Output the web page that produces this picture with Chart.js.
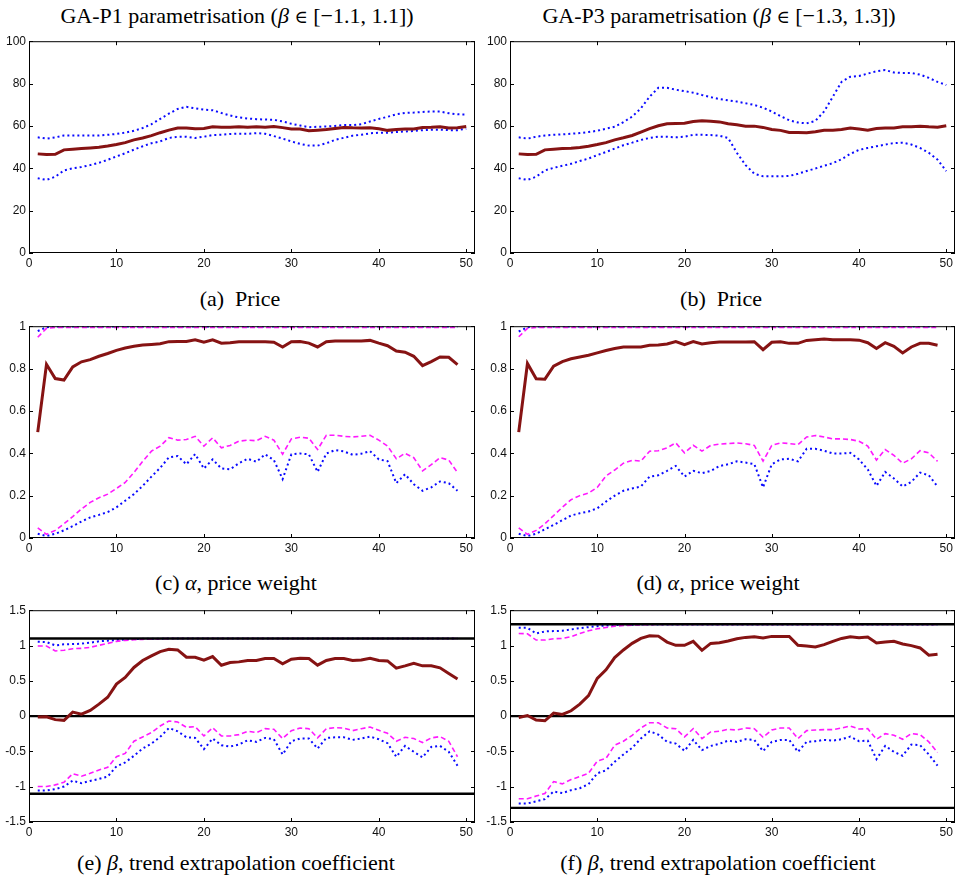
<!DOCTYPE html>
<html>
<head>
<meta charset="utf-8">
<script src="https://cdn.jsdelivr.net/npm/chart.js@4.4.1/dist/chart.umd.min.js"></script>
<style>
  html, body { margin: 0; padding: 0; background: #fff; }
  #page { position: relative; width: 960px; height: 886px; overflow: hidden; }
  .panel { position: absolute; width: 480px; height: 242px; }
  .txt {
    position: absolute; width: 480px; text-align: center;
    font-family: "Liberation Serif", "Times New Roman", serif;
    font-size: 22px; line-height: 22px; color: #000; white-space: nowrap;
  }
  .elem { font-family: "DejaVu Serif", serif; font-size: 18px; }
</style>
</head>
<body>
<div id="page">
  <div class="txt" style="left:-3px; top:5px;">GA-P1 parametrisation (<i>β</i> <span class="elem">∈</span> [−1.1, 1.1])</div>
  <div class="txt" style="left:479px; top:5px;">GA-P3 parametrisation (<i>β</i> <span class="elem">∈</span> [−1.3, 1.3])</div>

  <div class="panel" style="left:0; top:31px;"><canvas id="cA"></canvas></div>
  <div class="panel" style="left:480px; top:31px;"><canvas id="cB"></canvas></div>
  <div class="txt" style="left:0; top:288px;">(a)&nbsp; Price</div>
  <div class="txt" style="left:481px; top:288px;">(b)&nbsp; Price</div>

  <div class="panel" style="left:0; top:316px;"><canvas id="cC"></canvas></div>
  <div class="panel" style="left:480px; top:316px;"><canvas id="cD"></canvas></div>
  <div class="txt" style="left:-4px; top:572px;">(c) <i>α</i>, price weight</div>
  <div class="txt" style="left:478px; top:572px;">(d) <i>α</i>, price weight</div>

  <div class="panel" style="left:0; top:600px;"><canvas id="cE"></canvas></div>
  <div class="panel" style="left:480px; top:600px;"><canvas id="cF"></canvas></div>
  <div class="txt" style="left:-4px; top:852px;">(e) <i>β</i>, trend extrapolation coefficient</div>
  <div class="txt" style="left:478px; top:852px;">(f) <i>β</i>, trend extrapolation coefficient</div>
</div>

<script>
// x axis: generations
const gens50 = [1,2,3,4,5,6,7,8,9,10,11,12,13,14,15,16,17,18,19,20,21,22,23,24,25,
  26,27,28,29,30,31,32,33,34,35,36,37,38,39,40,41,42,43,44,45,46,47,48,49,50];
const gens49 = gens50.slice(0, 49);

const xTicks = [0, 10, 20, 30, 40, 50];
const priceTicks = [0, 20, 40, 60, 80, 100];
const alphaTicks = [0, 0.2, 0.4, 0.6, 0.8, 1];
const betaTicks = [-1.5, -1, -0.5, 0, 0.5, 1, 1.5];

// horizontal reference lines for beta panels
const betaLevelsP1 = [-1.1, 0, 1.1];
const betaLevelsP3 = [-1.3, 0, 1.3];

// (a) price, GA-P1
const priceP1Mean = [46.8,46.5,46.6,48.7,49.0,49.3,49.6,49.9,50.5,51.2,52.1,53.4,54.3,55.4,56.8,58.0,59.0,59.0,58.7,58.8,
  59.6,59.4,59.4,59.6,59.4,59.6,59.4,59.7,59.2,58.5,58.5,57.7,58.0,58.3,58.8,59.3,59.1,59.0,59.1,58.7,
  57.9,58.3,58.6,58.5,59.3,59.4,59.6,59.0,59.1,59.7];
const priceP1Upper = [54.6,54.0,54.6,55.5,55.5,55.5,55.5,55.5,55.8,56.2,56.8,57.7,59.0,60.8,63.3,65.8,68.0,69.0,68.3,67.7,
  67.4,66.1,64.9,64.0,63.5,63.2,63.0,62.9,62.1,61.0,60.2,59.4,59.6,59.7,60.0,60.4,60.4,60.8,62.1,63.3,
  64.3,65.5,66.1,66.3,66.6,66.8,66.8,66.0,65.5,65.4];
const priceP1Lower = [35.3,34.5,36.0,39.0,40.0,40.6,41.5,42.6,44.0,45.6,47.1,48.8,50.4,51.8,52.7,54.3,54.9,54.9,54.3,54.9,
  55.7,55.8,56.2,56.3,56.3,56.6,56.3,55.2,54.0,52.7,51.5,50.7,50.7,51.8,53.4,54.4,55.4,55.8,56.5,56.8,
  56.8,57.1,57.4,57.6,58.0,58.2,58.2,58.0,58.0,58.7];

// (b) price, GA-P3
const priceP3Mean = [46.8,46.5,46.6,48.7,49.0,49.3,49.5,49.8,50.4,51.2,52.1,53.4,54.4,55.5,57.1,58.7,60.1,61.0,61.2,61.3,
  62.1,62.4,62.2,61.9,61.0,60.5,59.9,59.9,59.3,58.3,57.9,56.9,56.9,56.8,57.3,57.9,58.0,58.3,59.0,58.5,
  58.0,58.8,59.0,59.0,59.6,59.6,59.9,59.6,59.4,60.1];
const priceP3Upper = [54.6,54.0,54.9,55.5,55.8,56.0,56.3,56.6,57.1,57.7,58.7,59.6,61.8,64.4,68.3,73.8,78.0,78.0,77.1,76.4,
  75.7,74.6,73.6,72.7,72.1,71.5,70.7,69.9,68.6,66.8,64.6,62.7,61.6,61.2,62.4,66.8,73.8,80.8,83.2,83.6,
  84.7,85.8,86.4,85.2,85.0,85.0,84.2,82.7,80.8,79.3];
const priceP3Lower = [35.3,34.5,36.0,39.0,40.2,41.2,42.1,43.4,44.6,46.2,47.7,49.3,50.9,52.1,53.4,54.3,54.9,54.9,54.6,54.9,
  55.8,55.8,55.7,55.4,54.3,47.3,41.5,37.4,36.2,36.2,36.2,36.4,37.4,38.7,39.9,41.2,42.4,44.3,46.8,48.7,
  49.6,50.4,51.2,51.9,52.1,51.2,49.6,47.3,44.1,38.7];

// (c) alpha, GA-P1
const alphaP1Mean = [0.500,0.820,0.753,0.746,0.808,0.832,0.842,0.858,0.871,0.886,0.897,0.905,0.911,0.914,0.917,0.927,0.928,0.928,0.936,0.924,
  0.936,0.920,0.922,0.927,0.927,0.926,0.927,0.924,0.902,0.927,0.928,0.920,0.902,0.927,0.930,0.930,0.930,0.930,0.933,0.920,
  0.908,0.883,0.877,0.858,0.814,0.833,0.855,0.853,0.819];
const alphaP1Max = [0.977,0.995,0.998,0.998,0.998,0.998,0.998,0.998,0.998,0.998,0.998,0.998,0.998,0.998,0.998,0.998,0.998,0.998,0.998,0.998,
  0.998,0.998,0.998,0.998,0.998,0.998,0.998,0.998,0.998,0.998,0.998,0.998,0.998,0.998,0.998,0.998,0.998,0.998,0.998,0.998,
  0.998,0.998,0.998,0.998,0.998,0.998,0.998,0.998,0.998];
const alphaP1QHi = [0.948,0.990,0.994,0.994,0.994,0.994,0.994,0.994,0.994,0.994,0.994,0.994,0.994,0.994,0.994,0.994,0.994,0.994,0.994,0.994,
  0.994,0.994,0.994,0.994,0.994,0.994,0.994,0.994,0.994,0.994,0.994,0.994,0.994,0.994,0.994,0.994,0.994,0.994,0.994,0.994,
  0.994,0.994,0.994,0.994,0.994,0.994,0.994,0.994,0.994];
const alphaP1QLo = [0.048,0.017,0.036,0.067,0.101,0.137,0.168,0.190,0.207,0.234,0.262,0.309,0.362,0.410,0.434,0.474,0.462,0.465,0.480,0.434,
  0.473,0.426,0.437,0.457,0.462,0.459,0.480,0.462,0.396,0.468,0.476,0.471,0.418,0.485,0.485,0.480,0.477,0.480,0.485,0.462,
  0.434,0.374,0.400,0.379,0.317,0.346,0.379,0.368,0.309];
const alphaP1Min = [0.020,0.009,0.020,0.036,0.056,0.078,0.097,0.109,0.122,0.145,0.176,0.207,0.246,0.290,0.331,0.381,0.387,0.348,0.396,0.328,
  0.371,0.328,0.324,0.353,0.374,0.360,0.395,0.368,0.278,0.395,0.399,0.395,0.312,0.399,0.415,0.409,0.393,0.398,0.410,0.371,
  0.363,0.259,0.301,0.254,0.223,0.239,0.267,0.259,0.223];

// (d) alpha, GA-P3
const alphaP3Mean = [0.500,0.824,0.752,0.750,0.811,0.833,0.846,0.855,0.863,0.874,0.885,0.895,0.902,0.902,0.902,0.910,0.911,0.916,0.927,0.913,
  0.927,0.916,0.922,0.925,0.925,0.925,0.925,0.927,0.889,0.924,0.927,0.919,0.919,0.933,0.936,0.939,0.936,0.936,0.936,0.934,
  0.922,0.895,0.922,0.905,0.874,0.902,0.919,0.919,0.910];
const alphaP3Max = [0.975,0.995,0.998,0.998,0.998,0.998,0.998,0.998,0.998,0.998,0.998,0.998,0.998,0.998,0.998,0.998,0.998,0.998,0.998,0.998,
  0.998,0.998,0.998,0.998,0.998,0.998,0.998,0.998,0.998,0.998,0.998,0.998,0.998,0.998,0.998,0.998,0.998,0.998,0.998,0.998,
  0.998,0.998,0.998,0.998,0.998,0.998,0.998,0.998,0.998];
const alphaP3QHi = [0.950,0.990,0.994,0.994,0.994,0.994,0.994,0.994,0.994,0.994,0.994,0.994,0.994,0.994,0.994,0.994,0.994,0.994,0.994,0.994,
  0.994,0.994,0.994,0.994,0.994,0.994,0.994,0.994,0.994,0.994,0.994,0.994,0.994,0.994,0.994,0.994,0.994,0.994,0.994,0.994,
  0.994,0.994,0.994,0.994,0.994,0.994,0.994,0.994,0.994];
const alphaP3QLo = [0.048,0.017,0.036,0.067,0.106,0.145,0.181,0.200,0.212,0.239,0.293,0.321,0.353,0.367,0.363,0.410,0.412,0.426,0.449,0.402,
  0.438,0.410,0.437,0.443,0.446,0.449,0.445,0.437,0.363,0.437,0.449,0.446,0.441,0.477,0.484,0.477,0.468,0.468,0.465,0.457,
  0.434,0.368,0.418,0.390,0.353,0.374,0.412,0.402,0.362];
const alphaP3Min = [0.020,0.009,0.020,0.041,0.062,0.084,0.106,0.117,0.125,0.140,0.172,0.200,0.223,0.234,0.243,0.290,0.296,0.317,0.340,0.290,
  0.317,0.306,0.317,0.340,0.348,0.362,0.356,0.349,0.239,0.348,0.371,0.374,0.362,0.421,0.421,0.412,0.399,0.399,0.402,0.371,
  0.324,0.246,0.312,0.281,0.243,0.265,0.309,0.296,0.243];

// (e) beta, GA-P1
const betaP1Mean = [-0.014,-0.010,-0.050,-0.060,0.056,0.028,0.080,0.170,0.267,0.454,0.548,0.689,0.787,0.852,0.913,0.946,0.937,0.834,0.834,0.792,
  0.843,0.721,0.759,0.768,0.787,0.787,0.815,0.815,0.740,0.806,0.820,0.815,0.721,0.787,0.815,0.815,0.787,0.796,0.820,0.787,
  0.782,0.679,0.712,0.749,0.712,0.712,0.684,0.604,0.525];
const betaP1Max = [1.054,1.049,1.002,1.016,1.020,1.026,1.040,1.059,1.068,1.077,1.087,1.091,1.094,1.096,1.097,1.098,1.099,1.099,1.099,1.099,
  1.099,1.099,1.099,1.099,1.099,1.099,1.099,1.099,1.099,1.099,1.099,1.099,1.099,1.099,1.099,1.099,1.099,1.099,1.099,1.099,
  1.099,1.099,1.099,1.099,1.099,1.099,1.099,1.099,1.099];
const betaP1QHi = [0.993,0.993,0.923,0.932,0.955,0.960,0.974,1.002,1.030,1.059,1.073,1.082,1.087,1.091,1.096,1.098,1.099,1.099,1.099,1.099,
  1.099,1.099,1.099,1.099,1.099,1.099,1.099,1.099,1.099,1.099,1.099,1.099,1.099,1.099,1.099,1.099,1.099,1.099,1.099,1.099,
  1.099,1.099,1.099,1.099,1.099,1.099,1.099,1.099,1.099];
const betaP1QLo = [-0.998,-0.998,-0.974,-0.937,-0.815,-0.852,-0.810,-0.763,-0.726,-0.576,-0.529,-0.356,-0.295,-0.234,-0.140,-0.070,-0.084,-0.159,-0.150,-0.281,
  -0.164,-0.281,-0.281,-0.262,-0.215,-0.234,-0.178,-0.187,-0.318,-0.206,-0.169,-0.178,-0.309,-0.178,-0.164,-0.169,-0.206,-0.178,-0.155,-0.201,
  -0.244,-0.356,-0.300,-0.318,-0.375,-0.309,-0.290,-0.356,-0.576];
const betaP1Min = [-1.054,-1.054,-1.035,-0.998,-0.913,-0.951,-0.918,-0.890,-0.857,-0.712,-0.656,-0.562,-0.459,-0.389,-0.295,-0.169,-0.215,-0.300,-0.309,-0.468,
  -0.318,-0.412,-0.431,-0.403,-0.342,-0.365,-0.309,-0.328,-0.543,-0.356,-0.318,-0.318,-0.459,-0.309,-0.300,-0.300,-0.337,-0.318,-0.290,-0.328,
  -0.384,-0.576,-0.422,-0.506,-0.585,-0.436,-0.422,-0.506,-0.703];

// (f) beta, GA-P3
const betaP3Mean = [-0.019,0.009,-0.056,-0.066,0.042,0.023,0.075,0.169,0.290,0.534,0.656,0.829,0.937,1.030,1.100,1.138,1.133,1.049,1.002,1.002,
  1.059,0.932,1.030,1.040,1.063,1.096,1.115,1.124,1.105,1.129,1.129,1.129,1.002,0.993,0.979,1.012,1.059,1.100,1.124,1.110,
  1.119,1.035,1.049,1.059,1.021,0.998,0.965,0.862,0.876];
const betaP3Max = [1.250,1.250,1.171,1.199,1.204,1.208,1.227,1.246,1.260,1.274,1.283,1.288,1.293,1.295,1.297,1.298,1.299,1.299,1.299,1.299,
  1.299,1.299,1.299,1.299,1.299,1.299,1.299,1.299,1.299,1.299,1.299,1.299,1.299,1.299,1.299,1.299,1.299,1.299,1.299,1.299,
  1.299,1.299,1.299,1.299,1.299,1.299,1.299,1.299,1.299];
const betaP3QHi = [1.171,1.166,1.077,1.077,1.096,1.100,1.124,1.171,1.208,1.237,1.255,1.274,1.283,1.288,1.293,1.296,1.298,1.298,1.298,1.298,
  1.298,1.298,1.298,1.298,1.298,1.298,1.298,1.298,1.298,1.298,1.298,1.298,1.298,1.298,1.298,1.298,1.298,1.298,1.298,1.298,
  1.298,1.298,1.298,1.298,1.298,1.298,1.298,1.298,1.298];
const betaP3QLo = [-1.171,-1.171,-1.133,-1.096,-0.927,-0.960,-0.899,-0.857,-0.810,-0.637,-0.600,-0.412,-0.356,-0.272,-0.169,-0.094,-0.094,-0.169,-0.178,-0.295,
  -0.178,-0.318,-0.225,-0.215,-0.187,-0.197,-0.169,-0.178,-0.300,-0.197,-0.169,-0.169,-0.318,-0.206,-0.197,-0.192,-0.192,-0.169,-0.140,-0.183,
  -0.178,-0.328,-0.248,-0.272,-0.328,-0.248,-0.262,-0.365,-0.515];
const betaP3Min = [-1.237,-1.237,-1.208,-1.176,-1.068,-1.091,-1.049,-1.021,-0.965,-0.810,-0.768,-0.646,-0.543,-0.450,-0.318,-0.215,-0.262,-0.365,-0.389,-0.492,
  -0.337,-0.482,-0.422,-0.393,-0.347,-0.365,-0.328,-0.337,-0.496,-0.365,-0.337,-0.337,-0.506,-0.365,-0.356,-0.337,-0.347,-0.328,-0.290,-0.356,
  -0.347,-0.609,-0.422,-0.506,-0.562,-0.403,-0.412,-0.543,-0.703];

const RED = '#861313';
const BLUE = '#0a0aff';
const MAGENTA = '#ff19ff';
const TICK_FONT = { family: 'Liberation Sans, Arial, sans-serif', size: 12 };

function pts(xs, ys) {
  return ys.map((y, i) => ({ x: xs[i], y: y }));
}

function meanLine(xs, ys) {
  return { data: pts(xs, ys), borderColor: RED, borderWidth: 3, pointRadius: 0, tension: 0 };
}
function dotLine(xs, ys) {
  return { data: pts(xs, ys), borderColor: BLUE, borderWidth: 2, borderDash: [2, 3], pointRadius: 0, tension: 0 };
}
function dashLine(xs, ys) {
  return { data: pts(xs, ys), borderColor: MAGENTA, borderWidth: 1.6, borderDash: [5, 3], pointRadius: 0, tension: 0 };
}

// plain tick text: 1 not 1.0, -0.5 not -0.50
const plainTick = v => String(Math.round(v * 100) / 100);

// matlab style box with inward ticks on all four sides
const boxPlugin = {
  id: 'box',
  beforeDatasetDraw(chart, args, opts) {
    // black reference lines, drawn just under the mean line (index 0 is drawn last)
    if (args.index !== 0 || !opts.levels) return;
    const { ctx, chartArea: a, scales } = chart;
    ctx.save();
    ctx.strokeStyle = '#000';
    ctx.lineWidth = 2.4;
    opts.levels.forEach(v => {
      const y = scales.y.getPixelForValue(v);
      ctx.beginPath();
      ctx.moveTo(a.left, y);
      ctx.lineTo(a.right, y);
      ctx.stroke();
    });
    ctx.restore();
  },
  afterDraw(chart) {
    const { ctx, chartArea: a, scales } = chart;
    const len = 4;
    ctx.save();
    ctx.strokeStyle = '#000';
    ctx.lineWidth = 1;
    ctx.strokeRect(a.left + 0.5, a.top + 0.5, a.right - a.left - 1, a.bottom - a.top - 1);
    ctx.beginPath();
    scales.x.ticks.forEach(t => {
      const x = Math.round(scales.x.getPixelForValue(t.value)) + 0.5;
      ctx.moveTo(x, a.bottom); ctx.lineTo(x, a.bottom - len);
      ctx.moveTo(x, a.top); ctx.lineTo(x, a.top + len);
    });
    scales.y.ticks.forEach(t => {
      const y = Math.round(scales.y.getPixelForValue(t.value)) + 0.5;
      ctx.moveTo(a.left, y); ctx.lineTo(a.left + len, y);
      ctx.moveTo(a.right, y); ctx.lineTo(a.right - len, y);
    });
    ctx.stroke();
    ctx.restore();
  }
};

function makePanel(id, datasets, yMin, yMax, yTicks, yAxisWidth, levels) {
  new Chart(document.getElementById(id), {
    type: 'line',
    data: { datasets: datasets },
    plugins: [boxPlugin],
    options: {
      responsive: false,
      animation: false,
      events: [],
      layout: { padding: { top: 8, right: 5, left: 0, bottom: 0 } },
      plugins: {
        legend: { display: false },
        tooltip: { enabled: false },
        box: { levels: levels }
      },
      scales: {
        x: {
          type: 'linear', min: 0, max: 51,
          afterBuildTicks: s => { s.ticks = xTicks.map(v => ({ value: v })); },
          afterFit: s => { s.height = 20; },
          grid: { display: false, drawTicks: false },
          border: { display: false },
          ticks: { color: '#111', padding: 3, maxRotation: 0, autoSkip: false,
                   font: TICK_FONT, callback: plainTick }
        },
        y: {
          type: 'linear', min: yMin, max: yMax,
          afterBuildTicks: s => { s.ticks = yTicks.map(v => ({ value: v })); },
          afterFit: s => { s.width = yAxisWidth; },
          grid: { display: false, drawTicks: false },
          border: { display: false },
          ticks: { color: '#111', padding: 3, autoSkip: false,
                   font: TICK_FONT, callback: plainTick }
        }
      }
    }
  });
}

function sizeCanvases() {
  document.querySelectorAll('canvas').forEach(c => { c.width = 480; c.height = 242; });
}
sizeCanvases();

makePanel('cA', [
  meanLine(gens50, priceP1Mean),
  dotLine(gens50, priceP1Upper),
  dotLine(gens50, priceP1Lower)
], 0, 100, priceTicks, 29, null);

makePanel('cB', [
  meanLine(gens50, priceP3Mean),
  dotLine(gens50, priceP3Upper),
  dotLine(gens50, priceP3Lower)
], 0, 100, priceTicks, 30, null);

makePanel('cC', [
  meanLine(gens49, alphaP1Mean),
  dashLine(gens49, alphaP1QHi),
  dashLine(gens49, alphaP1QLo),
  dotLine(gens49, alphaP1Max),
  dotLine(gens49, alphaP1Min)
], 0, 1, alphaTicks, 29, null);

makePanel('cD', [
  meanLine(gens49, alphaP3Mean),
  dashLine(gens49, alphaP3QHi),
  dashLine(gens49, alphaP3QLo),
  dotLine(gens49, alphaP3Max),
  dotLine(gens49, alphaP3Min)
], 0, 1, alphaTicks, 30, null);

makePanel('cE', [
  meanLine(gens49, betaP1Mean),
  dashLine(gens49, betaP1QHi),
  dashLine(gens49, betaP1QLo),
  dotLine(gens49, betaP1Max),
  dotLine(gens49, betaP1Min)
], -1.5, 1.5, betaTicks, 29, betaLevelsP1);

makePanel('cF', [
  meanLine(gens49, betaP3Mean),
  dashLine(gens49, betaP3QHi),
  dashLine(gens49, betaP3QLo),
  dotLine(gens49, betaP3Max),
  dotLine(gens49, betaP3Min)
], -1.5, 1.5, betaTicks, 30, betaLevelsP3);
</script>
</body>
</html>
